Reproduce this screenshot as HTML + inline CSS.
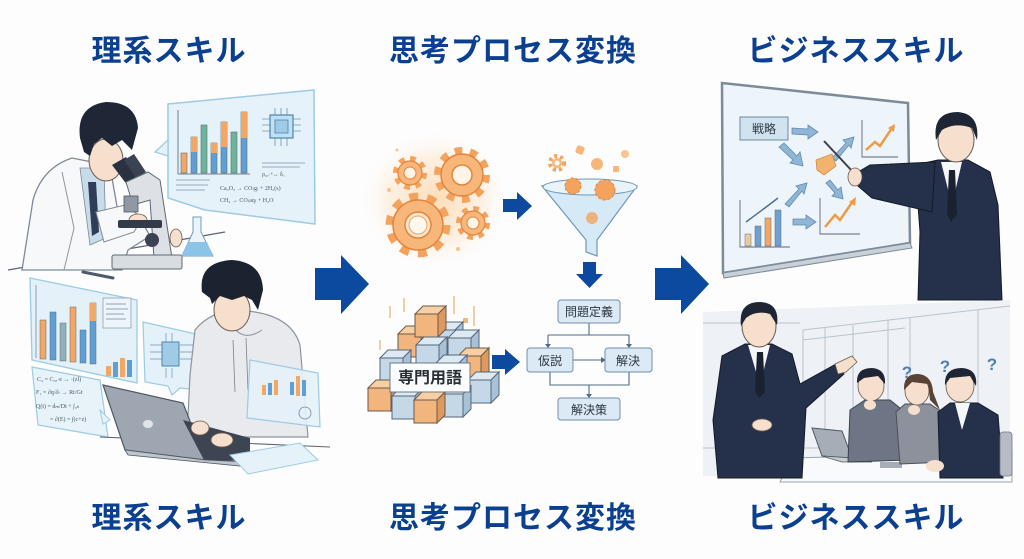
<!DOCTYPE html>
<html><head><meta charset="utf-8"><style>
html,body{margin:0;padding:0;background:#fdfdfe;}
svg{display:block;}
.t{font-family:"Liberation Sans","Noto Sans CJK JP",sans-serif;font-weight:700;font-size:30px;fill:#0b3f8f;letter-spacing:1px;}
.s{font-family:"Liberation Sans","Noto Sans CJK JP",sans-serif;font-size:12px;fill:#2b3440;}
.f{font-family:"Liberation Serif","Noto Sans CJK JP",serif;font-size:6px;fill:#4a5866;}
</style></head><body>
<svg width="1024" height="559" viewBox="0 0 1024 559" xmlns="http://www.w3.org/2000/svg">
<defs>
<radialGradient id="glow" cx="50%" cy="50%" r="50%">
<stop offset="0" stop-color="#fdd9b0" stop-opacity="0.9"/>
<stop offset="0.6" stop-color="#fde8d0" stop-opacity="0.6"/>
<stop offset="1" stop-color="#ffffff" stop-opacity="0"/>
</radialGradient>
<g id="cO"><polygon points="0,8 23,8 23,31 0,31" fill="#f2b57e" stroke="#6b5a4a" stroke-width="1"/><polygon points="0,8 8,0 31,0 23,8" fill="#f8cfa3" stroke="#6b5a4a" stroke-width="1"/><polygon points="23,8 31,0 31,23 23,31" fill="#de9a5e" stroke="#6b5a4a" stroke-width="1"/></g>
<g id="cB"><polygon points="0,8 23,8 23,31 0,31" fill="#c4d8e8" stroke="#56677a" stroke-width="1"/><polygon points="0,8 8,0 31,0 23,8" fill="#dde9f3" stroke="#56677a" stroke-width="1"/><polygon points="23,8 31,0 31,23 23,31" fill="#a8c1d6" stroke="#56677a" stroke-width="1"/></g>
</defs>

<!-- Titles -->
<text class="t" x="169" y="61" text-anchor="middle">理系スキル</text>
<text class="t" x="513" y="61" text-anchor="middle">思考プロセス変換</text>
<text class="t" x="856" y="61" text-anchor="middle">ビジネススキル</text>
<text class="t" x="169" y="528" text-anchor="middle">理系スキル</text>
<text class="t" x="513" y="528" text-anchor="middle">思考プロセス変換</text>
<text class="t" x="856" y="528" text-anchor="middle">ビジネススキル</text>

<!-- Big arrows -->
<polygon points="315,268 341,268 341,255 369,284 341,314 341,300 315,300" fill="#0b4a9e"/>
<polygon points="655,268 681,268 681,255 709,284 681,314 681,300 655,300" fill="#0b4a9e"/>

<!-- ================= LEFT TOP: scientist ================= -->
<polygon points="168,104 314,90 315,224 205,210 168,198" fill="#e6f2f9" stroke="#9ccbe3" stroke-width="1.5"/>
<polygon points="168,140 155,152 168,156" fill="#e6f2f9" stroke="#9ccbe3" stroke-width="1.2"/>
<line x1="178" y1="110" x2="178" y2="174" stroke="#6b7f90" stroke-width="1"/>
<line x1="178" y1="174" x2="250" y2="174" stroke="#6b7f90" stroke-width="1"/>
<rect x="181" y="153" width="6" height="20" fill="#f2a764" stroke="#5c6d7c" stroke-width="0.6"/>
<rect x="191" y="137" width="6" height="36" fill="#5f9fd3" stroke="#5c6d7c" stroke-width="0.6"/>
<rect x="191" y="137" width="6" height="15" fill="#f2a764"/>
<rect x="201" y="125" width="6" height="48" fill="#6db59a" stroke="#5c6d7c" stroke-width="0.6"/>
<rect x="211" y="143" width="6" height="30" fill="#5f9fd3" stroke="#5c6d7c" stroke-width="0.6"/>
<rect x="211" y="143" width="6" height="10" fill="#f2a764"/>
<rect x="221" y="122" width="6" height="51" fill="#5f9fd3" stroke="#5c6d7c" stroke-width="0.6"/>
<rect x="221" y="122" width="6" height="25" fill="#f2a764"/>
<rect x="231" y="132" width="6" height="41" fill="#6db59a" stroke="#5c6d7c" stroke-width="0.6"/>
<rect x="241" y="112" width="6" height="61" fill="#5f9fd3" stroke="#5c6d7c" stroke-width="0.6"/>
<rect x="241" y="112" width="6" height="26" fill="#f2a764"/>
<g stroke="#6a95b5" stroke-width="0.8" fill="none">
<path d="M262,119 h8 M262,125 h8 M262,131 h8 M293,119 h8 M293,125 h8 M293,131 h8 M275,108 v7 M281,108 v7 M287,108 v7 M275,138 v8 M281,138 v8 M287,138 v8"/>
</g>
<rect x="270" y="115" width="23" height="23" fill="#bfe0f2" stroke="#4d84ad" stroke-width="1.2"/>
<rect x="275" y="120" width="13" height="13" fill="#9fcbe6" stroke="#4d84ad" stroke-width="0.8"/>
<line x1="262" y1="163" x2="305" y2="163" stroke="#7d93a5" stroke-width="0.8"/>
<line x1="262" y1="167" x2="300" y2="167" stroke="#7d93a5" stroke-width="0.8"/>
<line x1="176" y1="180" x2="210" y2="180" stroke="#7d93a5" stroke-width="0.8"/>
<line x1="176" y1="185" x2="208" y2="185" stroke="#7d93a5" stroke-width="0.8"/>
<line x1="176" y1="190" x2="205" y2="190" stroke="#7d93a5" stroke-width="0.8"/>
<text class="f" x="262" y="176">ρ₀ₒ·ᵉ→ δₒ</text>
<text class="f" x="220" y="190">Ca₃O₃ → CO₍g₎ + 2H₂(s)</text>
<text class="f" x="220" y="202">CH₄ → CO₍aq₎ + H₂O</text>

<line x1="8" y1="270" x2="225" y2="232" stroke="#5b6570" stroke-width="1.2"/>
<!-- lab coat -->
<path d="M22,270 L33,200 Q42,168 72,158 L92,162 L112,178 L118,212 L140,218 L150,236 L128,250 L122,270 Z" fill="#f7f8fa" stroke="#7f8a96" stroke-width="1.3"/>
<path d="M62,172 L74,228 L64,270" fill="none" stroke="#8d97a2" stroke-width="1"/>
<polygon points="80,168 104,168 106,238 90,245" fill="#c8dbea" stroke="#7f8a96" stroke-width="0.8"/>
<polygon points="88,182 96,182 99,232 92,236" fill="#2f3d57"/>
<!-- head -->
<ellipse cx="106" cy="160" rx="17" ry="21" fill="#f6dfcc" stroke="#6a5a50" stroke-width="1"/>
<path d="M80,138 Q76,106 106,102 Q136,102 138,128 L132,150 L122,140 L112,146 L102,138 L94,144 L90,156 L84,152 Z" fill="#1f2636"/>
<!-- arm to microscope -->
<path d="M96,212 L125,205 L142,218 L134,232 L104,242 Z" fill="#f7f8fa" stroke="#7f8a96" stroke-width="1"/>
<ellipse cx="138" cy="220" rx="9" ry="6" fill="#f6dfcc" stroke="#6a5a50" stroke-width="0.8"/>
<ellipse cx="176" cy="238" rx="6" ry="9" fill="#f6dfcc" stroke="#6a5a50" stroke-width="0.8"/>
<!-- microscope -->
<polygon points="112,165 126,157 140,178 128,186" fill="#2a3140"/>
<polygon points="124,160 134,154 146,172 136,178" fill="#3b4352"/>
<path d="M126,182 L148,172 L160,180 L172,258 L154,258 L150,200 L133,205 Z" fill="#dde1e6" stroke="#5f6873" stroke-width="1"/>
<rect x="124" y="196" width="14" height="16" fill="#8f98a3" stroke="#4f5863" stroke-width="0.8"/>
<rect x="118" y="220" width="44" height="8" rx="2" fill="#343b48"/>
<circle cx="152" cy="240" r="7" fill="#3b4352"/>
<rect x="112" y="255" width="70" height="14" rx="2" fill="#d8dde2" stroke="#5f6873" stroke-width="1"/>
<path d="M193,217 L201,217 L201,232 L213,256 L182,256 L193,232 Z" fill="#eaf4fa" stroke="#6f9dbd" stroke-width="1"/>
<path d="M188,242 L207,242 L213,256 L182,256 Z" fill="#8cc4e8"/>
<line x1="83" y1="272" x2="113" y2="278" stroke="#4e5a6a" stroke-width="3" stroke-linecap="round"/>

<!-- ================= LEFT BOTTOM: student ================= -->
<polygon points="30,278 137,300 137,383 32,360" fill="#e4f1f8" stroke="#9ccbe3" stroke-width="1.3"/>
<line x1="36" y1="285" x2="36" y2="358" stroke="#7b8c9b" stroke-width="0.8"/>
<rect x="40" y="320" width="6" height="39" fill="#f2a764" stroke="#5c6d7c" stroke-width="0.5"/>
<rect x="50" y="312" width="6" height="48" fill="#5f9fd3" stroke="#5c6d7c" stroke-width="0.5"/>
<rect x="60" y="323" width="6" height="38" fill="#8fb2b8" stroke="#5c6d7c" stroke-width="0.5"/>
<rect x="70" y="307" width="6" height="55" fill="#f2a764" stroke="#5c6d7c" stroke-width="0.5"/>
<rect x="80" y="330" width="6" height="33" fill="#5f9fd3" stroke="#5c6d7c" stroke-width="0.5"/>
<rect x="90" y="303" width="6" height="61" fill="#5f9fd3" stroke="#5c6d7c" stroke-width="0.5"/>
<rect x="90" y="303" width="6" height="18" fill="#f2a764"/>
<rect x="103" y="298" width="28" height="30" fill="#edf5fa" stroke="#7f97aa" stroke-width="0.7"/>
<path d="M106,304 h20 M106,309 h22 M106,314 h18 M106,319 h20" stroke="#6f8799" stroke-width="0.8"/>
<rect x="106" y="366" width="5" height="10" fill="#f2a764"/><rect x="113" y="362" width="5" height="15" fill="#5f9fd3"/><rect x="120" y="358" width="5" height="19" fill="#f2a764"/><rect x="127" y="360" width="5" height="17" fill="#5f9fd3"/>
<polygon points="32,367 100,380 108,437 38,425" fill="#e7f3f9" stroke="#9ccbe3" stroke-width="1.2"/>
<polygon points="100,410 110,420 103,424" fill="#e7f3f9" stroke="#9ccbe3" stroke-width="1"/>
<text class="f" x="37" y="381">C₄ = C₀ₐ·e → ·(zl)</text>
<text class="f" x="36" y="394">F₁ = ∂q/∂ₜ → Rt/Gt</text>
<text class="f" x="36" y="408">Q(t) = dₘ/Dt + ∫ᵤₕ</text>
<text class="f" x="50" y="421">= ∂(E) = ∫(c+z)</text>
<polygon points="143,322 200,335 200,390 180,388 172,395 168,386 145,382" fill="#e4f1f8" stroke="#9ccbe3" stroke-width="1.2"/>
<g stroke="#6a95b5" stroke-width="0.7" fill="none"><path d="M150,345 h12 M150,352 h12 M150,359 h12 M180,345 h14 M180,352 h14 M180,359 h14 M166,333 v9 M172,333 v9 M166,368 v10 M172,368 v10"/></g>
<rect x="162" y="342" width="17" height="24" fill="#9fcbe6" stroke="#4d84ad" stroke-width="1"/>
<line x1="100" y1="437" x2="330" y2="447" stroke="#5b6570" stroke-width="1.1"/>
<path d="M195,330 Q215,305 255,312 Q292,318 300,345 L308,437 L187,437 L190,375 Z" fill="#e8eaee" stroke="#8d949d" stroke-width="1.2"/>
<path d="M228,318 Q240,345 262,330" fill="none" stroke="#8d949d" stroke-width="1"/>
<line x1="233" y1="340" x2="235" y2="392" stroke="#7b828c" stroke-width="0.8"/>
<line x1="246" y1="338" x2="248" y2="390" stroke="#7b828c" stroke-width="0.8"/>
<ellipse cx="232" cy="310" rx="18" ry="21" fill="#f6dfcc" stroke="#6a5a50" stroke-width="1"/>
<path d="M202,292 Q198,262 232,260 Q262,262 263,290 L258,310 L252,300 L244,296 L232,300 L220,296 L212,304 L210,298 Z" fill="#1b2230"/>
<polygon points="103,385 183,403 205,460 125,450" fill="#9ea7b1" stroke="#4f5863" stroke-width="1.2"/>
<ellipse cx="148" cy="424" rx="5" ry="4" fill="#e1e5ea"/>
<polygon points="183,420 250,438 250,460 205,462" fill="#3d4552"/>
<polygon points="125,450 205,460 250,462 250,467 128,455" fill="#bfc5cc" stroke="#4f5863" stroke-width="0.8"/>
<ellipse cx="200" cy="428" rx="9" ry="7" fill="#f6dfcc" stroke="#6a5a50" stroke-width="0.8"/>
<ellipse cx="222" cy="440" rx="11" ry="7" fill="#f6dfcc" stroke="#6a5a50" stroke-width="0.8"/>
<polygon points="250,360 318,373 320,427 247,418" fill="#e4f1f8" fill-opacity="0.9" stroke="#9ccbe3" stroke-width="1.2"/>
<rect x="262" y="385" width="4" height="10" fill="#f2a764"/><rect x="268" y="383" width="4" height="12" fill="#5f9fd3"/><rect x="274" y="380" width="4" height="15" fill="#f2a764"/>
<rect x="290" y="382" width="4" height="13" fill="#5f9fd3"/><rect x="296" y="376" width="4" height="20" fill="#f2a764"/><rect x="302" y="380" width="4" height="16" fill="#5f9fd3"/>
<circle cx="305" cy="413" r="6" fill="none" stroke="#6f8799" stroke-width="0.8"/>
<polygon points="230,455 300,443 318,460 248,474" fill="#e6f2f9" stroke="#9ccbe3" stroke-width="1"/>

<!-- ================= CENTER ================= -->
<ellipse cx="435" cy="200" rx="78" ry="72" fill="url(#glow)"/>
<circle cx="418" cy="225" r="28" fill="none" stroke="#f3a35e" stroke-width="9" stroke-dasharray="8.8 8.8"/>
<circle cx="418" cy="225" r="25" fill="#f7b67a" stroke="#e4843c" stroke-width="1.5"/>
<circle cx="418" cy="225" r="13" fill="#fde9cf" stroke="#e4843c" stroke-width="1.5"/>
<circle cx="418" cy="225" r="9" fill="#fff8ee" stroke="#f0a060" stroke-width="1"/>
<circle cx="462" cy="175" r="24" fill="none" stroke="#f3a35e" stroke-width="8" stroke-dasharray="7.5 7.6"/>
<circle cx="462" cy="175" r="21" fill="#f7b67a" stroke="#e4843c" stroke-width="1.5"/>
<circle cx="462" cy="175" r="10" fill="#fff4e6" stroke="#e4843c" stroke-width="1.5"/>
<circle cx="410" cy="173" r="14" fill="none" stroke="#f3a35e" stroke-width="6" stroke-dasharray="5.5 5.5"/>
<circle cx="410" cy="173" r="12" fill="#f7b67a" stroke="#e4843c" stroke-width="1.2"/>
<circle cx="410" cy="173" r="6" fill="#fff4e6" stroke="#e4843c" stroke-width="1"/>
<circle cx="473" cy="223" r="14" fill="none" stroke="#f3a35e" stroke-width="6" stroke-dasharray="5.5 5.5"/>
<circle cx="473" cy="223" r="12" fill="#f7b67a" stroke="#e4843c" stroke-width="1.2"/>
<circle cx="473" cy="223" r="6" fill="#fff4e6" stroke="#e4843c" stroke-width="1"/>
<circle cx="389" cy="190" r="2" fill="#f8c48e"/><circle cx="458" cy="249" r="2" fill="#f8c48e"/><circle cx="397" cy="150" r="1.5" fill="#f8c48e"/>
<polygon points="503,199 517,199 517,192 532,206 517,220 517,212 503,212" fill="#0b4a9e"/>
<path d="M542,186 Q590,175 637,186 L597,240 L597,256 L586,252 L586,240 Z" fill="#d6e9f6" stroke="#6f98b8" stroke-width="1.2"/>
<ellipse cx="590" cy="187" rx="47" ry="8" fill="#e8f3fa" stroke="#6f98b8" stroke-width="1"/>
<circle cx="557" cy="163" r="7" fill="none" stroke="#f3a35e" stroke-width="4" stroke-dasharray="3 3"/><circle cx="557" cy="163" r="5" fill="#f7b67a"/><circle cx="557" cy="163" r="2.5" fill="#fff"/>
<rect x="576" y="146" width="8" height="8" rx="2" fill="#f7b67a" transform="rotate(20 580 150)"/>
<circle cx="597" cy="164" r="6" fill="#f7b67a"/>
<rect x="613" y="166" width="6" height="6" rx="1" fill="#f7b67a"/>
<circle cx="625" cy="154" r="4" fill="#f8c48e"/>
<circle cx="573" cy="186" r="8" fill="#f3a35e" stroke="#e4843c" stroke-width="1" stroke-dasharray="3 2"/>
<circle cx="605" cy="190" r="10" fill="#f3a35e" stroke="#e4843c" stroke-width="1" stroke-dasharray="3 2"/>
<circle cx="592" cy="218" r="6" fill="#f3a35e" fill-opacity="0.8"/>
<polygon points="583,262 596,262 596,274 603,274 589.5,288 576,274 583,274" fill="#0b4a9e"/>
<g stroke="#506b86" stroke-width="1.1" fill="none">
<path d="M589,323 V335 M548,335 H629 M548,335 V346 M629,335 V346"/>
<path d="M573,360 H603"/>
<path d="M550,372 V385 H629 V372 M589,385 V396"/>
</g>
<g fill="#506b86">
<polygon points="545,344 551,344 548,348"/><polygon points="626,344 632,344 629,348"/>
<polygon points="601,357 606,360 601,363"/><polygon points="586,394 592,394 589,398"/>
</g>
<rect x="558" y="300" width="62" height="23" rx="3" fill="#dceaf5" stroke="#6f8fae" stroke-width="1"/>
<rect x="527" y="348" width="46" height="24" rx="3" fill="#dceaf5" stroke="#6f8fae" stroke-width="1"/>
<rect x="605" y="348" width="47" height="24" rx="3" fill="#dceaf5" stroke="#6f8fae" stroke-width="1"/>
<rect x="558" y="398" width="62" height="22" rx="3" fill="#dceaf5" stroke="#6f8fae" stroke-width="1"/>
<text class="s" x="589" y="316" text-anchor="middle">問題定義</text>
<text class="s" x="550" y="365" text-anchor="middle">仮説</text>
<text class="s" x="628" y="365" text-anchor="middle">解決</text>
<text class="s" x="589" y="414" text-anchor="middle">解決策</text>
<!-- cubes -->
<g stroke="#e8b27e" stroke-width="1.3"><line x1="390" y1="306" x2="390" y2="318"/><line x1="404" y1="298" x2="404" y2="312"/><line x1="454" y1="296" x2="454" y2="314"/><line x1="474" y1="306" x2="474" y2="326"/><line x1="380" y1="340" x2="380" y2="350"/></g>
<rect x="463" y="318" width="5" height="5" fill="#f2b57e"/>
<use href="#cB" x="432" y="322"/>
<use href="#cO" x="398" y="326"/>
<use href="#cB" x="448" y="330"/>
<use href="#cO" x="415" y="306"/>
<use href="#cB" x="416" y="337"/>
<use href="#cB" x="380" y="350"/>
<use href="#cO" x="458" y="348"/>
<use href="#cB" x="436" y="355"/>
<use href="#cO" x="368" y="380"/>
<use href="#cB" x="468" y="372"/>
<use href="#cB" x="392" y="388"/>
<use href="#cB" x="440" y="386"/>
<use href="#cO" x="414" y="392"/>
<rect x="390" y="363" width="80" height="29" fill="#fbfcfd" stroke="#6b7785" stroke-width="1"/>
<text class="s" x="430" y="383" text-anchor="middle" style="font-size:16px;font-weight:700;fill:#2a2f36">専門用語</text>
<polygon points="492,355 505,355 505,349 520,362 505,375 505,369 492,369" fill="#0b4a9e"/>

<!-- ================= RIGHT TOP ================= -->
<polygon points="722,83 908,103 910,243 723,273" fill="#eef5fa" stroke="#7d8b98" stroke-width="2.5"/>
<polygon points="723,273 910,243 912,248 724,278" fill="#c8d0d8" stroke="#7d8b98" stroke-width="1"/>
<rect x="740" y="117" width="48" height="23" fill="#d2e3f0" stroke="#6b8aa4" stroke-width="1"/>
<text class="s" x="764" y="133" text-anchor="middle" style="font-size:12px;fill:#2a3848">戦略</text>
<g fill="#8fb6d6" stroke="#5f89ad" stroke-width="0.8">
<polygon points="792,128 808,129 808,125 818,132 808,139 808,135 792,134"/>
<polygon points="779,147 784,143 797,156 800,152 803,166 790,163 793,160"/>
<polygon points="832,158 846,143 843,140 854,137 851,148 849,145 836,161"/>
<polygon points="785,204 799,189 796,186 807,183 804,194 802,191 789,207"/>
<polygon points="793,219 806,219 806,215 816,222 806,229 806,225 793,225"/>
<polygon points="826,183 830,180 838,190 841,187 843,199 832,196 835,193"/>
</g>
<polygon points="816,160 832,154 836,166 824,175 817,170" fill="#f2b36e" stroke="#d38a45" stroke-width="0.8"/>
<g stroke="#5a6878" stroke-width="0.9" fill="none">
<path d="M862,120 V157 H898"/><path d="M740,200 V247 H790"/><path d="M820,198 V234 H860"/>
</g>
<polyline points="866,150 875,142 880,146 892,128" fill="none" stroke="#ef9a48" stroke-width="2.5"/>
<polygon points="888,128 895,124 894,132" fill="#ef9a48"/>
<polyline points="825,227 835,215 840,220 853,201" fill="none" stroke="#ef9a48" stroke-width="2.5"/>
<polygon points="849,202 856,197 855,206" fill="#ef9a48"/>
<rect x="745" y="234" width="6" height="12" fill="#e8c9a0" stroke="#5c6d7c" stroke-width="0.5"/>
<rect x="755" y="226" width="6" height="20" fill="#6fa0cf" stroke="#5c6d7c" stroke-width="0.5"/>
<rect x="765" y="218" width="6" height="28" fill="#f2a764" stroke="#5c6d7c" stroke-width="0.5"/>
<rect x="775" y="210" width="6" height="36" fill="#6fa0cf" stroke="#5c6d7c" stroke-width="0.5"/>
<path d="M746,222 Q765,208 778,198" fill="none" stroke="#4f6d8a" stroke-width="1.5"/>
<line x1="824" y1="141" x2="853" y2="172" stroke="#3a3f48" stroke-width="2"/>
<path d="M915,165 L938,160 L968,160 L990,172 L998,205 L1002,300 L918,300 L920,232 Z" fill="#25304a" stroke="#141a28" stroke-width="1"/>
<path d="M858,172 L870,165 L935,162 L932,212 L872,198 L858,186 Z" fill="#25304a" stroke="#141a28" stroke-width="1"/>
<polygon points="941,162 962,162 952,205" fill="#f6f7f9"/>
<polygon points="949,170 955,170 957,214 951,222 947,214" fill="#1a2232"/>
<ellipse cx="855" cy="177" rx="7" ry="9" fill="#f6dfcc" stroke="#6a5a50" stroke-width="0.8"/>
<ellipse cx="956" cy="140" rx="18" ry="22" fill="#f6dfcc" stroke="#6a5a50" stroke-width="1"/>
<path d="M936,140 Q932,112 958,112 Q980,114 977,140 L972,128 Q955,122 942,130 Z" fill="#1e2535"/>

<!-- ================= RIGHT BOTTOM ================= -->
<polygon points="703,312 1010,300 1010,476 703,476" fill="#eef2f6"/>
<g stroke="#b8c3ce" stroke-width="1" fill="none">
<path d="M703,323 H800"/><path d="M803,330 L1010,306"/><path d="M803,340 L905,328"/>
<path d="M803,330 V452 M825,328 V452 M853,325 V452 M888,320 V452 M910,318 V452 M978,310 V452"/>
<path d="M703,448 H1010"/>
</g>
<polygon points="792,458 1012,452 1012,482 780,482" fill="#f9fafb" stroke="#9aa4ae" stroke-width="1"/>
<polygon points="812,428 842,431 852,458 822,456" fill="#a6adb6" stroke="#4f5863" stroke-width="1"/>
<polygon points="822,456 852,458 872,462 842,462" fill="#c8cdd3" stroke="#4f5863" stroke-width="0.8"/>
<rect x="880" y="462" width="22" height="6" fill="#a6adb6"/>
<path d="M850,410 L865,400 L890,400 L905,412 L910,460 L848,462 Z" fill="#6e7584" stroke="#3c4250" stroke-width="1"/>
<ellipse cx="871" cy="386" rx="13" ry="15" fill="#f6dfcc" stroke="#6a5a50" stroke-width="0.8"/>
<path d="M857,383 Q856,368 872,368 Q886,369 885,384 L878,376 L864,378 Z" fill="#1e2535"/>
<ellipse cx="870" cy="405" rx="6" ry="5" fill="#f6dfcc"/>
<path d="M896,412 L905,404 L930,404 L942,412 L948,462 L900,464 Z" fill="#8c919b" stroke="#4a4f58" stroke-width="1"/>
<ellipse cx="917" cy="391" rx="12" ry="14" fill="#f6dfcc" stroke="#6a5a50" stroke-width="0.8"/>
<path d="M904,390 Q903,374 918,374 Q932,375 933,392 L940,410 L930,400 L928,384 L912,382 Z" fill="#5a4236"/>
<ellipse cx="914" cy="410" rx="6" ry="5" fill="#f6dfcc"/>
<path d="M938,412 L950,403 L978,403 L998,415 L1003,478 L940,478 Z" fill="#25304a" stroke="#141a28" stroke-width="1"/>
<polygon points="955,403 970,403 962,430" fill="#f6f7f9"/>
<ellipse cx="960" cy="386" rx="14" ry="16" fill="#f6dfcc" stroke="#6a5a50" stroke-width="0.8"/>
<path d="M945,385 Q944,368 962,368 Q978,369 976,386 L970,376 L950,378 Z" fill="#1e2535"/>
<rect x="1000" y="432" width="12" height="44" rx="3" fill="#b5bcc5" stroke="#6f7884" stroke-width="0.8"/>
<ellipse cx="935" cy="466" rx="9" ry="6" fill="#f6dfcc"/>
<text x="907" y="378" text-anchor="middle" style="font-family:'Liberation Sans',sans-serif;font-size:17px;font-weight:700;fill:#4d7fb3">?</text>
<text x="945" y="372" text-anchor="middle" style="font-family:'Liberation Sans',sans-serif;font-size:17px;font-weight:700;fill:#4d7fb3">?</text>
<text x="992" y="370" text-anchor="middle" style="font-family:'Liberation Sans',sans-serif;font-size:17px;font-weight:700;fill:#4d7fb3">?</text>
<path d="M722,356 L745,344 L772,344 L792,354 L800,384 L836,364 L844,374 L806,408 L802,478 L718,478 L713,420 Z" fill="#25304a" stroke="#141a28" stroke-width="1"/>
<polygon points="748,345 770,345 760,385" fill="#f6f7f9"/>
<polygon points="757,352 763,352 765,392 759,398 755,392" fill="#1a2232"/>
<path d="M835,364 L852,356 L857,362 L846,372 L838,374 Z" fill="#f6dfcc" stroke="#6a5a50" stroke-width="0.8"/>
<ellipse cx="762" cy="425" rx="10" ry="6" fill="#f6dfcc" stroke="#6a5a50" stroke-width="0.8"/>
<ellipse cx="759" cy="326" rx="17" ry="21" fill="#f6dfcc" stroke="#6a5a50" stroke-width="1"/>
<path d="M741,326 Q738,302 760,302 Q780,303 777,325 L770,314 Q756,310 746,318 Z" fill="#1e2535"/>
</svg>
</body></html>
